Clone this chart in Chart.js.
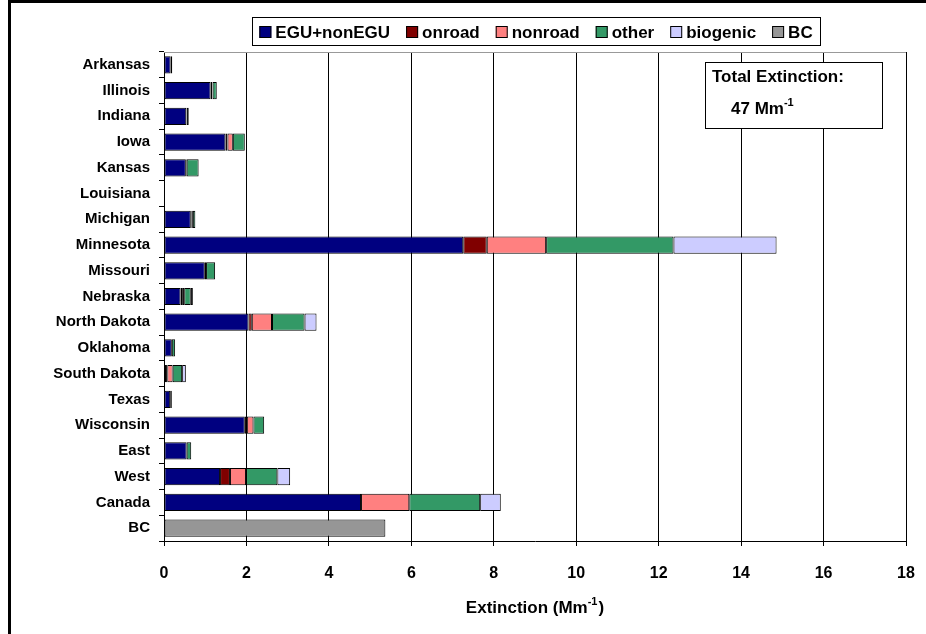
<!DOCTYPE html>
<html>
<head>
<meta charset="utf-8">
<script src="https://cdn.jsdelivr.net/npm/chart.js@4/dist/chart.umd.min.js"></script>
<style>
    body { margin: 0; background: #fff; }
    #wrap { position: relative; width: 926px; height: 634px; }
</style>
</head>
<body>
<div id="wrap"><canvas id="chart" width="926" height="634"></canvas></div>
<script>
const categories = ['Arkansas', 'Illinois', 'Indiana', 'Iowa', 'Kansas', 'Louisiana', 'Michigan', 'Minnesota',
    'Missouri', 'Nebraska', 'North Dakota', 'Oklahoma', 'South Dakota', 'Texas', 'Wisconsin', 'East', 'West',
    'Canada', 'BC'];

const egu      = [0.16, 1.13, 0.54, 1.49, 0.53, 0.02, 0.65, 7.26, 0.99, 0.40, 2.05, 0.19, 0.05, 0.15, 1.96, 0.55, 1.36, 4.78, 0];
const onroad   = [0, 0.04, 0, 0.05, 0.02, 0, 0.02, 0.57, 0.03, 0.04, 0.08, 0, 0.03, 0, 0.05, 0, 0.24, 0, 0];
const nonroad  = [0, 0.01, 0.01, 0.13, 0, 0, 0.03, 1.44, 0, 0.05, 0.49, 0, 0.13, 0, 0.16, 0, 0.39, 1.17, 0];
const other    = [0.04, 0.10, 0.05, 0.29, 0.29, 0, 0.06, 3.09, 0.22, 0.16, 0.79, 0.08, 0.23, 0.04, 0.26, 0.11, 0.76, 1.72, 0];
const biogenic = [0, 0, 0, 0, 0, 0, 0, 2.50, 0, 0.05, 0.29, 0, 0.09, 0, 0, 0, 0.31, 0.50, 0];
const bc       = [0, 0, 0, 0, 0, 0, 0, 0, 0, 0, 0, 0, 0, 0, 0, 0, 0, 0, 5.37];

const xTicks = [0, 2, 4, 6, 8, 10, 12, 14, 16, 18];

const FONT = '"Liberation Sans", Arial, sans-serif';

// draws base text followed by a raised superscript, then optional tail text
function drawSup(ctx, base, sup, tail, x, y, size, align) {
    const supSize = Math.round(size * 0.62);
    ctx.font = 'bold ' + size + 'px ' + FONT;
    const wb = ctx.measureText(base).width;
    const wt = ctx.measureText(tail).width;
    ctx.font = 'bold ' + supSize + 'px ' + FONT;
    const ws = ctx.measureText(sup).width + 1;
    let start = x;
    if (align === 'center') start = x - (wb + ws + wt) / 2;
    ctx.textAlign = 'left';
    ctx.textBaseline = 'alphabetic';
    ctx.font = 'bold ' + size + 'px ' + FONT;
    ctx.fillText(base, start, y);
    ctx.fillText(tail, start + wb + ws, y);
    ctx.font = 'bold ' + supSize + 'px ' + FONT;
    ctx.fillText(sup, start + wb, y - size * 0.45);
}

const extras = {
    id: 'extras',
    beforeDraw(chart) {
        const ctx = chart.ctx;
        ctx.save();
        ctx.fillStyle = '#fff';
        ctx.fillRect(0, 0, chart.width, chart.height);
        ctx.restore();
    },
    afterDraw(chart) {
        const ctx = chart.ctx;
        const area = chart.chartArea;
        ctx.save();

        // outer frame
        ctx.fillStyle = '#000';
        ctx.fillRect(8, 0, 918, 3);
        ctx.fillRect(8, 0, 3, chart.height);

        // top edge of plot
        ctx.strokeStyle = '#999';
        ctx.lineWidth = 1;
        ctx.beginPath();
        ctx.moveTo(area.left, area.top + 0.5);
        ctx.lineTo(area.right, area.top + 0.5);
        ctx.stroke();

        // legend
        const items = chart.data.datasets.map(d => ({ text: d.label, color: d.backgroundColor }));
        ctx.font = 'bold 17px ' + FONT;
        const box = 12, gapBox = 4, gapItem = 16;
        let total = 0;
        items.forEach((it, i) => {
            it.w = ctx.measureText(it.text).width;
            total += box + gapBox + it.w + (i < items.length - 1 ? gapItem : 0);
        });
        const lx0 = 252, lx1 = 820, ly0 = 17, ly1 = 45;
        ctx.strokeStyle = '#000';
        ctx.strokeRect(lx0 + 0.5, ly0 + 0.5, lx1 - lx0, ly1 - ly0);
        let x = (lx0 + lx1) / 2 - total / 2;
        const cy = (ly0 + ly1) / 2 + 1;
        ctx.textBaseline = 'middle';
        ctx.textAlign = 'left';
        items.forEach(it => {
            ctx.fillStyle = it.color;
            ctx.fillRect(x, cy - box / 2, box, box);
            ctx.strokeStyle = '#000';
            ctx.strokeRect(x + 0.5, cy - box / 2 + 0.5, box - 1, box - 1);
            x += box + gapBox;
            ctx.fillStyle = '#000';
            ctx.fillText(it.text, x, cy + 1);
            x += it.w + gapItem;
        });

        // total extinction box
        ctx.fillStyle = '#fff';
        ctx.fillRect(705, 62, 177, 66);
        ctx.strokeStyle = '#000';
        ctx.strokeRect(705.5, 62.5, 177, 66);
        ctx.fillStyle = '#000';
        ctx.font = 'bold 17px ' + FONT;
        ctx.textAlign = 'left';
        ctx.textBaseline = 'alphabetic';
        ctx.fillText('Total Extinction:', 712, 82);
        drawSup(ctx, '47 Mm', '-1', '', 731, 114, 17, 'left');

        // x axis title
        drawSup(ctx, 'Extinction (Mm', '-1', ')', (area.left + area.right) / 2, 613, 17, 'center');
        ctx.restore();
    }
};

function ds(label, data, color) {
    return {
        label: label,
        data: data,
        backgroundColor: color,
        borderColor: '#000',
        borderWidth: 1,
        borderSkipped: false,
        barPercentage: 0.67,
        categoryPercentage: 1
    };
}

new Chart(document.getElementById('chart'), {
    type: 'bar',
    data: {
        labels: categories,
        datasets: [
            ds('EGU+nonEGU', egu, '#000080'),
            ds('onroad', onroad, '#800000'),
            ds('nonroad', nonroad, '#ff8080'),
            ds('other', other, '#339966'),
            ds('biogenic', biogenic, '#ccccff'),
            ds('BC', bc, '#969696')
        ]
    },
    options: {
        indexAxis: 'y',
        responsive: false,
        animation: false,
        layout: { padding: { top: 52, right: 20, left: 0, bottom: 0 } },
        plugins: {
            legend: { display: false },
            tooltip: { enabled: false }
        },
        scales: {
            x: {
                stacked: true,
                min: 0,
                max: 18,
                afterBuildTicks: scale => { scale.ticks = xTicks.map(v => ({ value: v })); },
                afterFit: scale => {
                    scale.height = 93;
                    scale.paddingLeft = 0;
                    scale.paddingRight = 0;
                },
                grid: { color: '#000', lineWidth: 1, tickLength: 5 },
                border: { color: '#000', width: 1 },
                ticks: {
                    color: '#000',
                    font: { family: FONT, size: 16, weight: 'bold' },
                    padding: 18,
                    maxRotation: 0
                }
            },
            y: {
                stacked: true,
                afterFit: scale => { scale.width = 164; },
                grid: { display: true, drawOnChartArea: false, offset: true, color: '#000', tickLength: 5 },
                border: { color: '#000', width: 1 },
                ticks: {
                    color: '#000',
                    font: { family: FONT, size: 15, weight: 'bold' },
                    padding: 9,
                    autoSkip: false
                }
            }
        }
    },
    plugins: [extras]
});
</script>
</body>
</html>
